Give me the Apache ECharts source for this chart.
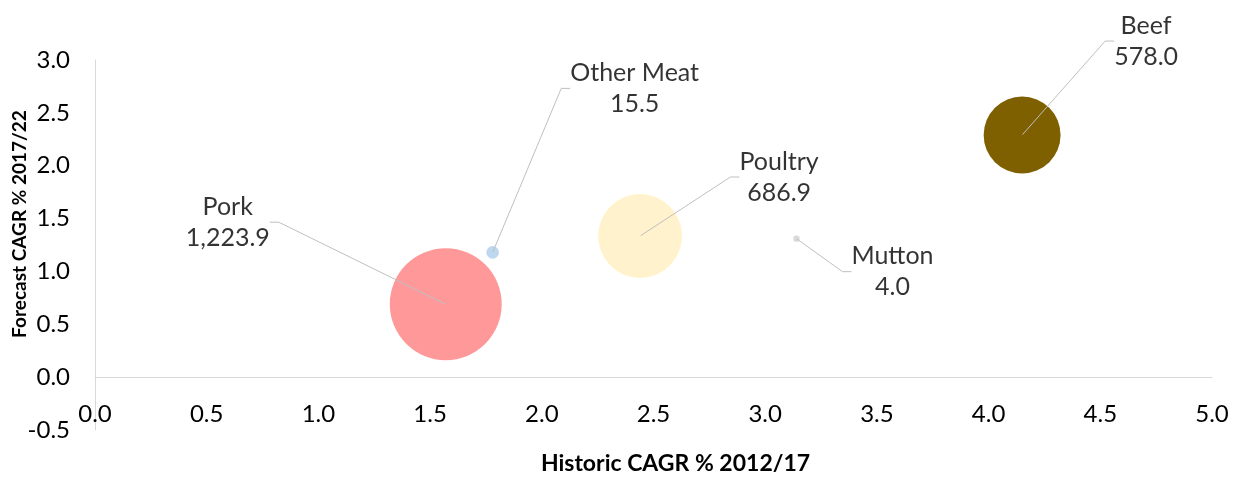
<!DOCTYPE html>
<html>
<head>
<meta charset="utf-8">
<script src="https://cdn.jsdelivr.net/npm/echarts@6/dist/echarts.min.js"></script>
<style>
  html, body { margin: 0; padding: 0; background: #fff; }
  #chart { width: 1234px; height: 480px; }
</style>
</head>
<body>
<div id="chart"></div>
<script>
  // 数据
  var names = ['Pork', 'Other Meat', 'Poultry', 'Mutton', 'Beef'];
  var historicCagr = [1.57, 1.78, 2.44, 3.14, 4.15];
  var forecastCagr = [0.69, 1.18, 1.335, 1.31, 2.29];
  var marketSize = [1223.9, 15.5, 686.9, 4.0, 578.0];

  // 样式
  var colors = ['#FF9999', '#BDD7EE', '#FFF2CC', '#D9D9D9', '#7F6000'];
  var labelOffsets = [[-218, -82], [142, -164], [139, -59], [96, 33], [124, -94]];
  var font = 'Lato, "Open Sans", sans-serif';

  var points = names.map(function (n, i) {
    return {
      name: n,
      value: [historicCagr[i], forecastCagr[i], marketSize[i]],
      itemStyle: { color: colors[i] }
    };
  });

  function fmt(v) {
    return v.toLocaleString('en-US', { minimumFractionDigits: 1, maximumFractionDigits: 1 });
  }

  var chart = echarts.init(document.getElementById('chart'));
  chart.setOption({
    animation: false,
    grid: { left: 95, right: 22, top: 60, bottom: 50, outerBoundsMode: 'none', containLabel: false },
    xAxis: {
      type: 'value',
      min: 0,
      max: 5,
      interval: 0.5,
      name: 'Historic CAGR % 2012/17',
      nameLocation: 'middle',
      nameGap: 22,
      nameMoveOverlap: false,
      nameTextStyle: { fontFamily: font, fontSize: 23, fontWeight: 'bold', color: '#000', padding: [0, 0, 0, 44] },
      axisLine: { onZero: true, lineStyle: { color: '#d9d9d9', width: 1 } },
      axisTick: { show: false },
      splitLine: { show: false },
      axisLabel: {
        // 标签放在0轴下面，网格底部上方
        margin: -28,
        fontFamily: font,
        fontSize: 24,
        color: '#000',
        formatter: function (v) { return v.toFixed(1); }
      }
    },
    yAxis: {
      type: 'value',
      min: -0.5,
      max: 3,
      interval: 0.5,
      name: 'Forecast CAGR % 2017/22',
      nameLocation: 'middle',
      nameGap: 66,
      nameMoveOverlap: false,
      nameTextStyle: { fontFamily: font, fontSize: 19, fontWeight: 'bold', color: '#000', padding: [0, 0, 0, 42] },
      axisLine: { show: true, onZero: false, lineStyle: { color: '#d9d9d9', width: 1 } },
      axisTick: { show: false },
      splitLine: { show: false },
      axisLabel: {
        margin: 25,
        fontFamily: font,
        fontSize: 24,
        color: '#000',
        formatter: function (v) { return v.toFixed(1); }
      }
    },
    series: [
      {
        // 气泡，面积和数值成正比
        type: 'scatter',
        data: points,
        symbolSize: function (d) { return 3.2 * Math.sqrt(d[2]); },
        itemStyle: { opacity: 1 },
        emphasis: { disabled: true },
        z: 2
      },
      {
        // 标签和引导线，从气泡中心拉出
        type: 'scatter',
        data: points,
        symbolSize: 1,
        itemStyle: { color: 'rgba(0,0,0,0)' },
        emphasis: { disabled: true },
        silent: true,
        z: 3,
        label: {
          show: true,
          position: 'inside',
          fontFamily: font,
          fontSize: 25,
          lineHeight: 31,
          color: '#000',
          align: 'center',
          formatter: function (p) { return p.name + '\n' + fmt(p.value[2]); }
        },
        labelLine: {
          show: true,
          length2: 9,
          lineStyle: { color: '#bfbfbf', width: 1 }
        },
        labelLayout: function (params) {
          var o = labelOffsets[params.dataIndex];
          return { dx: o[0], dy: o[1] };
        }
      }
    ]
  });
</script>
</body>
</html>
